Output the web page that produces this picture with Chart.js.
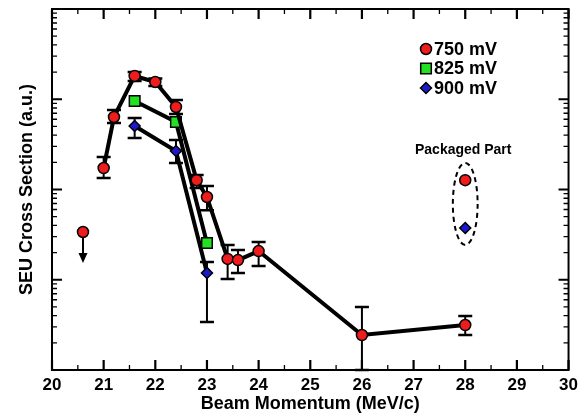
<!DOCTYPE html>
<html>
<head>
<meta charset="utf-8">
<script src="https://cdn.jsdelivr.net/npm/chart.js@4/dist/chart.umd.min.js"></script>
<style>
html, body { margin: 0; padding: 0; background: #fff; }
</style>
</head>
<body>
<canvas id="seuChart" width="583" height="415"></canvas>
<script>
// beam momentum (MeV/c) vs SEU cross section (a.u.)
const momentum750 = [21.0, 21.2, 21.6, 22.0, 22.4, 22.8, 23.0, 23.4, 23.6, 24.0, 26.0, 28.0];
const sigma750 = [173, 636, 1811, 1553, 821, 127, 82.6, 17.0, 16.5, 20.8, 2.44, 3.15];
const errLow750 = [134, 546, 1592, 1400, 687, 104, 59, 10.2, 11.9, 14.2, 1.0, 2.44];
const errHigh750 = [229, 760, 2004, 1700, 981, 145, 109, 24.3, 21.4, 26.2, 4.99, 3.97];

const momentum825 = [21.6, 22.4, 23.0];
const sigma825 = [957, 560, 25.5];

const momentum900 = [21.6, 22.4, 23.0];
const sigma900 = [505, 267, 11.9];
const errLow900 = [372, 197, 3.4];
const errHigh900 = [620, 353, 15.7];

// upper limit point (750 mV)
const limitMomentum = [20.6];
const limitSigma = [33.8];

// packaged part at 28 MeV/c
const packagedMomentum = [28];
const packaged750 = [127];
const packaged900 = [37.5];
// dashed ring round the packaged part: x half width and y range
const ringHalfWidth = 0.24;
const ringRange = [24.3, 197];

const legendLabels = ['750 mV', '825 mV', '900 mV'];
const xTicks = [20, 21, 22, 23, 24, 25, 26, 27, 28, 29, 30];

const RED = '#ee1c1c', GREEN = '#22e022', BLUE = '#1a1acc';
const FONT = '"Liberation Sans", Arial, sans-serif';

const pts = (xs, ys) => xs.map((x, i) => ({ x: x, y: ys[i] }));

function markerStyle(color, style, r) {
  return {
    pointStyle: style,
    pointRadius: r,
    pointHoverRadius: r,
    pointBackgroundColor: color,
    pointBorderColor: '#000',
    pointBorderWidth: 1.5
  };
}

const errorBars = {
  id: 'errorBars',
  beforeDatasetsDraw(chart) {
    const { ctx, scales: { x, y } } = chart;
    ctx.save();
    ctx.strokeStyle = '#000';
    chart.data.datasets.forEach(ds => {
      if (!ds.errLow) return;
      ds.data.forEach((p, i) => {
        const px = x.getPixelForValue(p.x);
        const top = y.getPixelForValue(ds.errHigh[i]);
        const bot = y.getPixelForValue(ds.errLow[i]);
        ctx.lineWidth = 2;
        ctx.beginPath();
        ctx.moveTo(px, top); ctx.lineTo(px, bot);
        ctx.stroke();
        ctx.lineWidth = 2.5;
        ctx.beginPath();
        ctx.moveTo(px - 7, top); ctx.lineTo(px + 7, top);
        ctx.moveTo(px - 7, bot); ctx.lineTo(px + 7, bot);
        ctx.stroke();
      });
    });
    // arrow for the upper limit
    const lp = x.getPixelForValue(limitMomentum[0]);
    const ly = y.getPixelForValue(limitSigma[0]);
    ctx.lineWidth = 2;
    ctx.beginPath();
    ctx.moveTo(lp, ly); ctx.lineTo(lp, ly + 24);
    ctx.stroke();
    ctx.fillStyle = '#000';
    ctx.beginPath();
    ctx.moveTo(lp - 4.5, ly + 21); ctx.lineTo(lp + 4.5, ly + 21); ctx.lineTo(lp, ly + 31);
    ctx.closePath();
    ctx.fill();
    ctx.restore();
  }
};

const extras = {
  id: 'extras',
  afterDatasetsDraw(chart) {
    const { ctx, chartArea: a, scales: { x, y } } = chart;
    ctx.save();
    ctx.strokeStyle = '#000';
    ctx.fillStyle = '#000';

    // frame
    ctx.lineWidth = 2;
    ctx.strokeRect(a.left, a.top, a.right - a.left, a.bottom - a.top);

    // inward ticks on x
    for (let v = x.min; v <= x.max + 1e-9; v += 0.5) {
      const px = x.getPixelForValue(v);
      const major = Math.abs(v - Math.round(v)) < 1e-6;
      const len = major ? 10 : 5;
      ctx.lineWidth = major ? 2.2 : 1.3;
      ctx.beginPath();
      ctx.moveTo(px, a.bottom); ctx.lineTo(px, a.bottom - len);
      ctx.moveTo(px, a.top); ctx.lineTo(px, a.top + len);
      ctx.stroke();
    }
    // inward ticks on log y
    for (let d = 1; d < y.max; d *= 10) {
      for (let m = 1; m < 10; m++) {
        const py = y.getPixelForValue(d * m);
        const major = m === 1;
        const len = major ? 10 : 5;
        ctx.lineWidth = major ? 2.2 : 1.3;
        ctx.beginPath();
        ctx.moveTo(a.left, py); ctx.lineTo(a.left + len, py);
        ctx.moveTo(a.right, py); ctx.lineTo(a.right - len, py);
        ctx.stroke();
      }
    }

    // dashed ring round the packaged part
    const cx = x.getPixelForValue(packagedMomentum[0]);
    const rx = x.getPixelForValue(packagedMomentum[0] + ringHalfWidth) - cx;
    const yTop = y.getPixelForValue(ringRange[1]);
    const yBot = y.getPixelForValue(ringRange[0]);
    ctx.lineWidth = 2;
    ctx.setLineDash([5, 4]);
    ctx.beginPath();
    ctx.ellipse(cx, (yTop + yBot) / 2, rx, (yBot - yTop) / 2, 0, 0, Math.PI * 2);
    ctx.stroke();
    ctx.setLineDash([]);

    ctx.font = 'bold 14px ' + FONT;
    ctx.textAlign = 'center';
    ctx.textBaseline = 'middle';
    ctx.fillText('Packaged Part', cx - 2, yTop - 13);

    // legend
    const styles = [['circle', RED, 5.5], ['rect', GREEN, 7.5], ['rectRot', BLUE, 5.5]];
    ctx.font = 'bold 18px ' + FONT;
    ctx.textAlign = 'left';
    legendLabels.forEach((lab, i) => {
      const ly = a.top + 40 + i * 19.5;
      const lx = 426;
      ctx.fillStyle = styles[i][1];
      ctx.strokeStyle = '#000';
      ctx.lineWidth = 1.5;
      Chart.helpers.drawPoint(ctx, { pointStyle: styles[i][0], radius: styles[i][2], rotation: 0, borderWidth: 1.5 }, lx, ly);
      ctx.fillStyle = '#000';
      ctx.fillText(lab, lx + 8, ly + 1);
    });
    ctx.restore();
  }
};

new Chart(document.getElementById('seuChart').getContext('2d'), {
  type: 'line',
  data: {
    datasets: [
      Object.assign({ label: '750 mV', data: pts(momentum750, sigma750), errLow: errLow750, errHigh: errHigh750,
        borderColor: '#000', borderWidth: 4, tension: 0 }, markerStyle(RED, 'circle', 5.5)),
      Object.assign({ label: '825 mV', data: pts(momentum825, sigma825),
        borderColor: '#000', borderWidth: 4, tension: 0 }, markerStyle(GREEN, 'rect', 7.5)),
      Object.assign({ label: '900 mV', data: pts(momentum900, sigma900), errLow: errLow900, errHigh: errHigh900,
        borderColor: '#000', borderWidth: 4, tension: 0 }, markerStyle(BLUE, 'rectRot', 5.5)),
      Object.assign({ label: 'limit', data: pts(limitMomentum, limitSigma), showLine: false }, markerStyle(RED, 'circle', 5.5)),
      Object.assign({ label: 'packaged 750', data: pts(packagedMomentum, packaged750), showLine: false }, markerStyle(RED, 'circle', 5.5)),
      Object.assign({ label: 'packaged 900', data: pts(packagedMomentum, packaged900), showLine: false }, markerStyle(BLUE, 'rectRot', 5.5))
    ]
  },
  options: {
    responsive: false,
    animation: false,
    devicePixelRatio: 1,
    layout: { padding: { top: 9, right: 13, left: 0, bottom: 0 } },
    plugins: {
      legend: { display: false },
      tooltip: { enabled: false }
    },
    scales: {
      x: {
        type: 'linear',
        min: 20,
        max: 30,
        afterBuildTicks: s => { s.ticks = xTicks.map(v => ({ value: v })); },
        afterFit: s => { s.height = 45; },
        grid: { display: false, drawTicks: false },
        border: { display: false },
        ticks: { color: '#000', padding: 5, font: { family: FONT, size: 17, weight: 'bold' } },
        title: {
          display: true,
          text: 'Beam Momentum (MeV/c)',
          color: '#000',
          padding: { top: 0, bottom: 0 },
          font: { family: FONT, size: 18, weight: 'bold' }
        }
      },
      y: {
        type: 'logarithmic',
        min: 1,
        max: 10000,
        afterFit: s => { s.width = 52; },
        grid: { display: false, drawTicks: false },
        border: { display: false },
        ticks: { display: false },
        title: {
          display: true,
          text: 'SEU Cross Section (a.u.)',
          color: '#000',
          padding: { top: 16, bottom: 0 },
          font: { family: FONT, size: 18, weight: 'bold' }
        }
      }
    }
  },
  plugins: [errorBars, extras]
});
</script>
</body>
</html>
